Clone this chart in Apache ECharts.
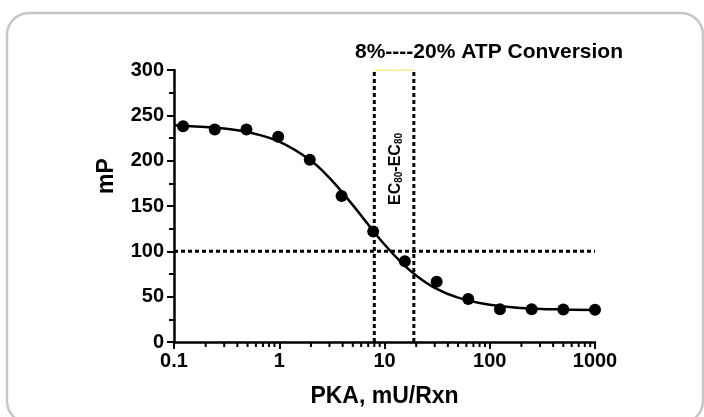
<!DOCTYPE html>
<html>
<head>
<meta charset="utf-8">
<script src="https://cdn.jsdelivr.net/npm/echarts@6/dist/echarts.min.js"></script>
<style>
html,body{margin:0;padding:0;background:#fff;}
#chart{width:704px;height:417px;}
</style>
</head>
<body>
<div id="chart"></div>
<script>
// ---- data ----
const doseX = [0.122, 0.244, 0.488, 0.977, 1.95, 3.91, 7.81, 15.6, 31.3, 62.5, 125, 250, 500, 1000];
const mpY   = [238, 234.5, 234.5, 226.5, 201, 161, 122, 89, 66.5, 47.5, 36, 36, 35.8, 35.6];
// fitted curve at several doses
const curveX = [0.1, 0.2, 0.3, 0.5, 1, 2, 3, 5, 7, 10, 15, 20, 30, 50, 100, 200, 500, 1000];
const curveY = [239, 237, 235.5, 231.5, 221, 200, 181, 151, 129.6, 107.5, 85.8, 73.3, 59.8, 48.9, 41, 37.6, 35.8, 35.4];
const refX = [8, 19];        // EC bounds (vertical dashed lines)
const refY = 100;            // horizontal dashed line
const xTicks = [0.1, 1, 10, 100, 1000];
const yTicks = [0, 50, 100, 150, 200, 250, 300];

// minor log ticks (2..9 of each decade)
const minorX = [];
for (let d = 0.1; d < 1000; d *= 10) {
  for (let k = 2; k <= 9; k++) minorX.push(+(d * k).toPrecision(3));
}

const FONT = '"Liberation Sans", Arial, sans-serif';
const chart = echarts.init(document.getElementById('chart'), null, {renderer: 'canvas'});

const dashStyle = {color: '#000', width: 3, type: [4, 3], opacity: 1};

chart.setOption({
  backgroundColor: '#fff',
  animation: false,
  grid: {left: 174, right: 109, top: 70, bottom: 75},
  xAxis: {
    type: 'log', logBase: 10, min: 0.1, max: 1000,
    axisLine: {show: true, onZero: false, lineStyle: {color: '#000', width: 2.5}},
    axisTick: {show: true, length: 7, lineStyle: {color: '#000', width: 2}},
    axisLabel: {
      color: '#000', fontFamily: FONT, fontWeight: 'bold', fontSize: 20, margin: 9,
      formatter: v => { const r = +(+v).toPrecision(3); return xTicks.includes(r) ? String(r) : ''; }
    },
    splitLine: {show: false},
    name: 'PKA, mU/Rxn', nameLocation: 'middle', nameGap: 43,
    nameTextStyle: {color: '#000', fontFamily: FONT, fontWeight: 'bold', fontSize: 23}
  },
  yAxis: {
    type: 'value', min: 0, max: 300, interval: 50,
    axisLine: {show: true, lineStyle: {color: '#000', width: 2.5}},
    axisTick: {show: true, length: 7, lineStyle: {color: '#000', width: 2}},
    minorTick: {show: true, splitNumber: 2, length: 5, lineStyle: {color: '#000', width: 2}},
    axisLabel: {color: '#000', fontFamily: FONT, fontWeight: 'bold', fontSize: 20, margin: 10,
      formatter: v => yTicks.includes(v) ? String(v) : ''},
    splitLine: {show: false}
  },
  graphic: [
    {type: 'rect', z: -10, shape: {x: 7, y: 13, width: 696, height: 410, r: 22},
     style: {fill: 'none', stroke: '#c6c6c6', lineWidth: 2.5}},
    {type: 'text', x: 489, y: 52,
     style: {text: '8%----20% ATP Conversion', font: 'bold 21px ' + FONT, fill: '#000',
             textAlign: 'center', textVerticalAlign: 'middle'}},
    {type: 'text', x: 107, y: 176, rotation: Math.PI / 2,
     style: {text: 'mP', font: 'bold 23px ' + FONT, fill: '#000',
             textAlign: 'center', textVerticalAlign: 'middle'}},
    {type: 'text', x: 396, y: 169, rotation: Math.PI / 2,
     style: {text: '{a|EC}{s|80}{a|-EC}{s|80}', fill: '#000',
             textAlign: 'center', textVerticalAlign: 'middle',
             rich: {
               a: {font: 'bold 16px ' + FONT, fill: '#000', verticalAlign: 'middle'},
               s: {font: 'bold 10px ' + FONT, fill: '#000', verticalAlign: 'bottom', padding: [6, 0, 0, 0]}
             }}}
  ],
  series: [
    {type: 'line', name: 'fit', data: curveX.map((x, i) => [x, curveY[i]]),
     smooth: 0.4, showSymbol: false, symbol: 'none',
     lineStyle: {color: '#000', width: 2.5}, z: 3},
    {type: 'scatter', name: 'data', data: doseX.map((x, i) => [x, mpY[i]]),
     symbol: 'circle', symbolSize: 12, itemStyle: {color: '#000', opacity: 1}, z: 4},
    {type: 'line', data: [[refX[0], 0], [refX[0], 300]], showSymbol: false, symbol: 'none',
     lineStyle: dashStyle, z: 2},
    {type: 'line', data: [[refX[1], 0], [refX[1], 300]], showSymbol: false, symbol: 'none',
     lineStyle: dashStyle, z: 2},
    {type: 'line', data: [[0.1, refY], [1000, refY]], showSymbol: false, symbol: 'none',
     lineStyle: dashStyle, z: 2},
    {type: 'line', data: [[refX[0], 300], [refX[1], 300]], showSymbol: false, symbol: 'none',
     lineStyle: {color: '#f2dc1e', width: 1}, z: 1},
    {type: 'custom', name: 'minorTicks', data: minorX.map(v => [v, 0]), clip: false, silent: true,
     renderItem: (params, api) => {
       const p = api.coord([api.value(0), 0]);
       return {type: 'line', shape: {x1: p[0], y1: p[1], x2: p[0], y2: p[1] + 5},
               style: {stroke: '#000', lineWidth: 2}};
     }, z: 5}
  ]
});
</script>
</body>
</html>
